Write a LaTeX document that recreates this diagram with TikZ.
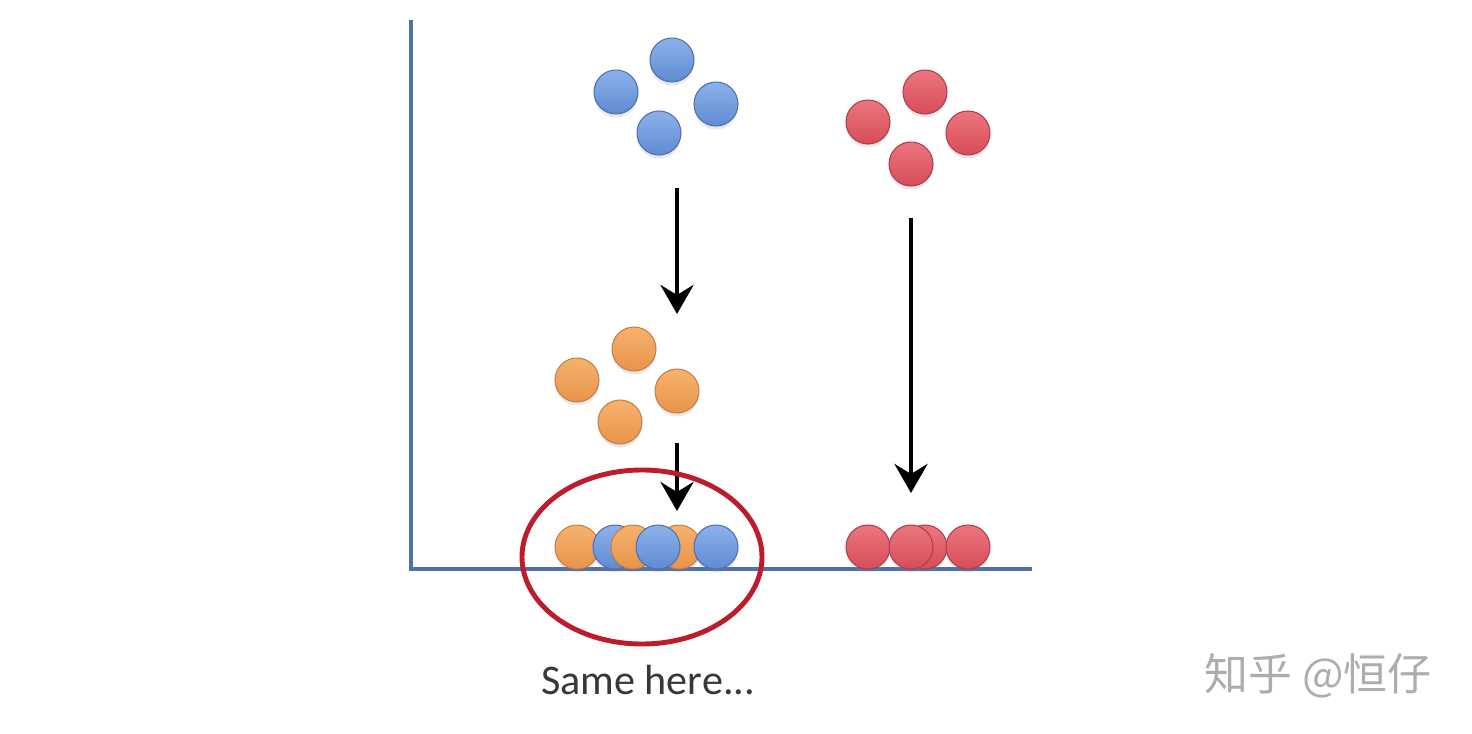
\documentclass[tikz,border=0pt]{standalone}
\usepackage{fontspec}
\setsansfont{Carlito}
\newfontfamily\cjkmark{Noto Sans CJK SC}
\usetikzlibrary{arrows.meta,shadows}
\definecolor{axisblue}{RGB}{80,112,172}
\definecolor{bluetop}{RGB}{140,178,236}
\definecolor{bluebot}{RGB}{96,138,210}
\definecolor{blueedge}{RGB}{78,112,176}
\definecolor{orangetop}{RGB}{246,178,110}
\definecolor{orangebot}{RGB}{232,148,74}
\definecolor{orangeedge}{RGB}{196,128,70}
\definecolor{redtop}{RGB}{236,118,126}
\definecolor{redbot}{RGB}{214,76,88}
\definecolor{rededge}{RGB}{176,62,74}
\definecolor{ringred}{RGB}{190,28,42}

\begin{document}
\begin{tikzpicture}[x=.02cm,y=-.02cm,
  ball/.style={circle,line width=.6pt,minimum size=.88cm,inner sep=0pt,
    drop shadow={opacity=.18,shadow xshift=0pt,shadow yshift=-2pt}},
  blueball/.style={ball,draw=blueedge,top color=bluetop,bottom color=bluebot},
  orangeball/.style={ball,draw=orangeedge,top color=orangetop,bottom color=orangebot},
  redball/.style={ball,draw=rededge,top color=redtop,bottom color=redbot},
  fall/.style={line width=2.8pt,-{Stealth[length=.58cm,width=.66cm,inset=.2cm]}}]
\path[use as bounding box] (0,0) rectangle (1472,734);

% axes
\draw[axisblue,line width=2pt] (411,20)--(411,569)--(1032,569);

% clusters up in the air
\node[blueball] (b1) at (672,60) {};
\node[blueball] (b2) at (616,92) {};
\node[blueball] (b3) at (716,104) {};
\node[blueball] (b4) at (659,133) {};

\node[redball] (r1) at (925,92) {};
\node[redball] (r2) at (868,122) {};
\node[redball] (r3) at (968,133) {};
\node[redball] (r4) at (911,164) {};

\node[orangeball] (o1) at (634,349) {};
\node[orangeball] (o2) at (577,380) {};
\node[orangeball] (o3) at (677,391) {};
\node[orangeball] (o4) at (620,422) {};

% flattened on the axis
\node[orangeball] (ob1) at (577,547) {};
\node[blueball] (bb1) at (615,547) {};
\node[orangeball] (ob2) at (633,547) {};
\node[orangeball] (ob3) at (679,547) {};
\node[blueball] (bb2) at (658,547) {};
\node[blueball] (bb3) at (716,547) {};

\node[redball] (rb1) at (868,547) {};
\node[redball] (rb3) at (925,547) {};
\node[redball] (rb2) at (911,547) {};
\node[redball] (rb4) at (968,547) {};

% falling
\coordinate (bs) at (677,188);
\coordinate (be) at (677,314);
\draw[fall] (bs)--(be);
\coordinate (os) at (677,443);
\coordinate (oe) at (677,511);
\draw[fall] (os)--(oe);
\coordinate (rs) at (911,218);
\coordinate (re) at (911,493);
\draw[fall] (rs)--(re);

\draw[ringred,line width=2.8pt] (642,557) ellipse [x radius=120,y radius=87];

\node[font=\sffamily\fontsize{24}{28}\selectfont,text=black!78] (note) at (648,680) {Same here...};
\node[font=\cjkmark\fontsize{25}{30}\selectfont,text=black!32] (mark) at (1318,676) {知乎 @恒仔};
\end{tikzpicture}
\end{document}
